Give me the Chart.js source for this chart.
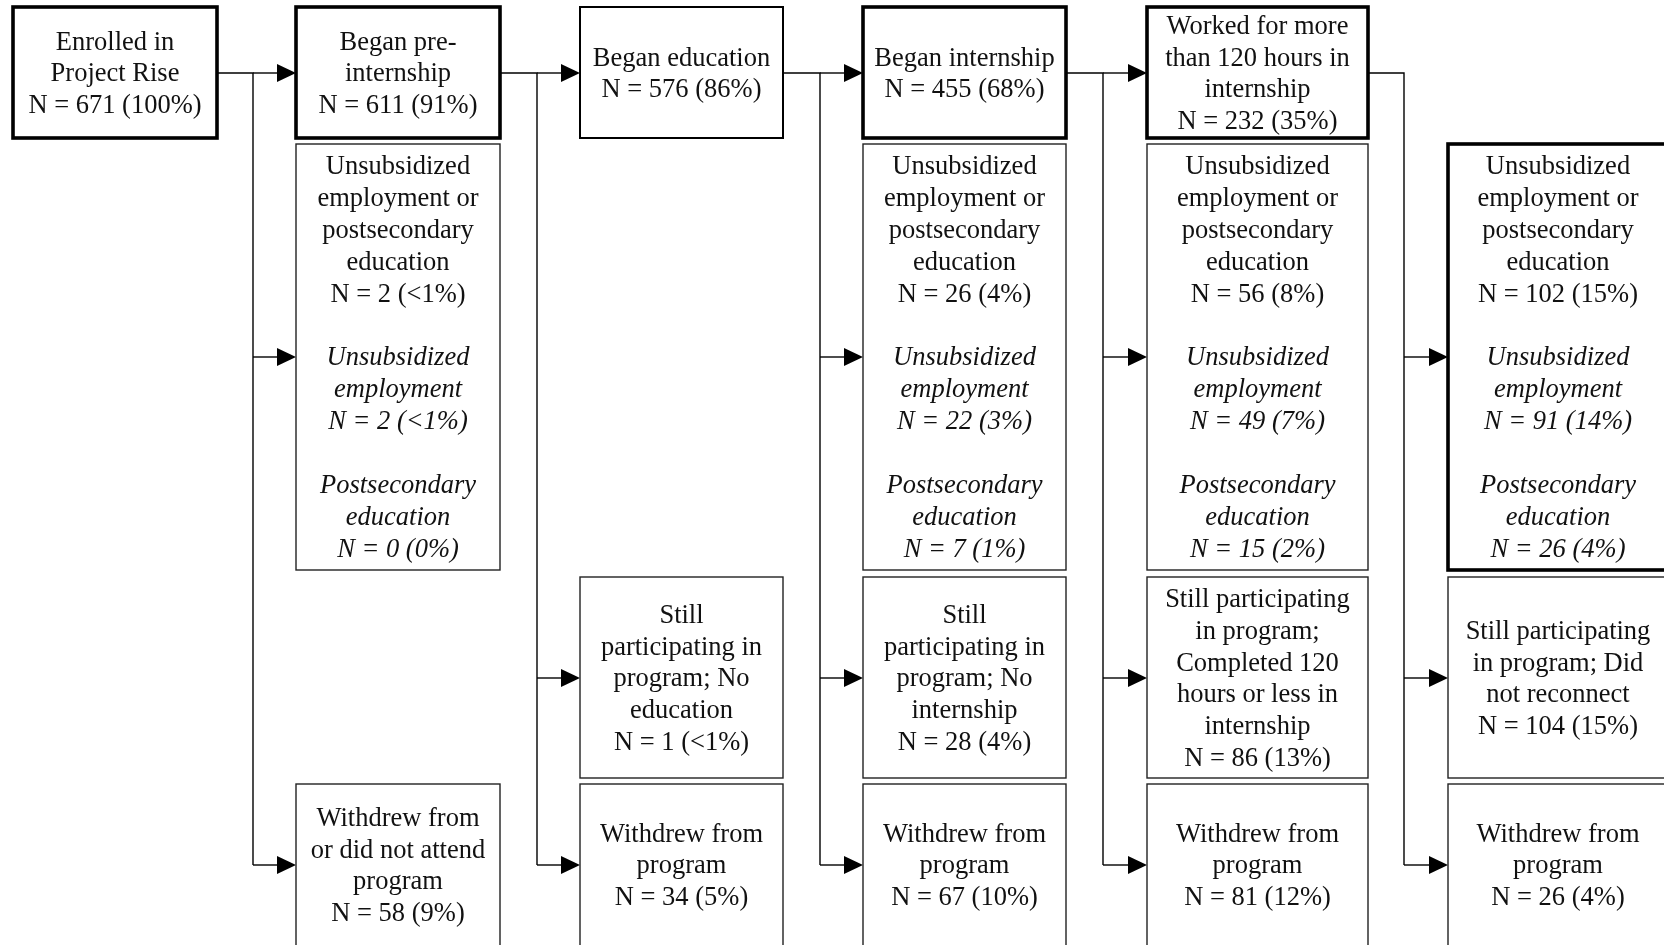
<!DOCTYPE html>
<html>
<head>
<meta charset="utf-8">
<script src="https://cdn.jsdelivr.net/npm/chart.js@4"></script>
<style>
  html, body { margin: 0; padding: 0; background: #fff; }
  #flow { display: block; }
</style>
</head>
<body>
<canvas id="flow" width="1664" height="945"></canvas>
<script>
// stages along the top row
const stageNames = ['Enrolled in\nProject Rise', 'Began pre-\ninternship', 'Began education', 'Began internship', 'Worked for more\nthan 120 hours in\ninternship'];
const stageN = [671, 611, 576, 455, 232];
const stagePct = ['100%', '91%', '86%', '68%', '35%'];

// reconnected: employment or postsecondary education (and its two parts)
const reconnectCols = [1, 3, 4, 5];
const reconnectN = [2, 26, 56, 102];
const reconnectPct = ['<1%', '4%', '8%', '15%'];
const employN = [2, 22, 49, 91];
const employPct = ['<1%', '3%', '7%', '14%'];
const eduN = [0, 7, 15, 26];
const eduPct = ['0%', '1%', '2%', '4%'];

// still participating
const stillCols = [2, 3, 4, 5];
const stillLabels = ['Still\nparticipating in\nprogram; No\neducation', 'Still\nparticipating in\nprogram; No\ninternship', 'Still participating\nin program;\nCompleted 120\nhours or less in\ninternship', 'Still participating\nin program; Did\nnot reconnect'];
const stillN = [1, 28, 86, 104];
const stillPct = ['<1%', '4%', '13%', '15%'];

// withdrew
const withdrewCols = [1, 2, 3, 4, 5];
const withdrewLabels = ['Withdrew from\nor did not attend\nprogram', 'Withdrew from\nprogram', 'Withdrew from\nprogram', 'Withdrew from\nprogram', 'Withdrew from\nprogram'];
const withdrewN = [58, 34, 67, 81, 26];
const withdrewPct = ['9%', '5%', '10%', '12%', '4%'];

// layout grid (in scale units)
const colLeft = [13, 296, 580, 863, 1147, 1448];
const colRight = [217, 500, 783, 1066, 1368, 1668];
const rowTop = [7, 144, 577, 784];
const rowBottom = [138, 570, 778, 960];
const rowMid = [73, 357, 678, 865];
const branchX = [253, 537, 820, 1103, 1404];

const FONT = '"Liberation Serif", "Times New Roman", serif';
const FONT_SIZE = 26.5;
const LINE_H = 31.9;
const TEXT_SHIFT = 1.5;

function nText(n, pct) {
    return 'N = ' + n + ' (' + pct + ')';
}

function plainLines(str) {
    return str.split('\n').map(function (t) { return {t: t, it: false}; });
}

function italicLines(str) {
    return str.split('\n').map(function (t) { return {t: t, it: true}; });
}

// build the boxes from the data
let boxes = [];
for (let i = 0; i < stageNames.length; i++) {
    boxes.push({
        col: i, row: 0,
        lines: plainLines(stageNames[i] + '\n' + nText(stageN[i], stagePct[i])),
        weight: i == 2 ? 2 : 3.6
    });
}
for (let i = 0; i < reconnectCols.length; i++) {
    let lines = plainLines('Unsubsidized\nemployment or\npostsecondary\neducation\n' + nText(reconnectN[i], reconnectPct[i]));
    lines.push({t: '', it: false});
    lines = lines.concat(italicLines('Unsubsidized\nemployment\n' + nText(employN[i], employPct[i])));
    lines.push({t: '', it: false});
    lines = lines.concat(italicLines('Postsecondary\neducation\n' + nText(eduN[i], eduPct[i])));
    boxes.push({col: reconnectCols[i], row: 1, lines: lines, weight: reconnectCols[i] == 5 ? 3.6 : 1.4});
}
for (let i = 0; i < stillCols.length; i++) {
    boxes.push({col: stillCols[i], row: 2, lines: plainLines(stillLabels[i] + '\n' + nText(stillN[i], stillPct[i])), weight: 1.4});
}
for (let i = 0; i < withdrewCols.length; i++) {
    boxes.push({col: withdrewCols[i], row: 3, lines: plainLines(withdrewLabels[i] + '\n' + nText(withdrewN[i], withdrewPct[i])), weight: 1.4});
}

function hasBox(col, row) {
    return boxes.some(function (b) { return b.col == col && b.row == row; });
}

const flowPlugin = {
    id: 'flow',
    afterDatasetsDraw(chart) {
        const ctx = chart.ctx;
        const xs = chart.scales.x;
        const ys = chart.scales.y;
        const px = function (v) { return xs.getPixelForValue(v); };
        const py = function (v) { return ys.getPixelForValue(v); };

        ctx.save();
        // connectors
        ctx.strokeStyle = '#000';
        ctx.fillStyle = '#000';
        ctx.lineWidth = 1.4;
        for (let g = 0; g < branchX.length; g++) {
            const bx = px(branchX[g]);
            let lastRow = 0;
            for (let r = 1; r < rowMid.length; r++) {
                if (hasBox(g + 1, r)) lastRow = r;
            }
            ctx.beginPath();
            ctx.moveTo(px(colRight[g]), py(rowMid[0]));
            ctx.lineTo(bx, py(rowMid[0]));
            ctx.lineTo(bx, py(rowMid[lastRow]));
            ctx.stroke();
            for (let r = 0; r < rowMid.length; r++) {
                if (!hasBox(g + 1, r)) continue;
                const tip = px(colLeft[g + 1]);
                const y = py(rowMid[r]);
                ctx.beginPath();
                ctx.moveTo(bx, y);
                ctx.lineTo(tip - 18, y);
                ctx.stroke();
                ctx.beginPath();
                ctx.moveTo(tip - 19, y - 9);
                ctx.lineTo(tip, y);
                ctx.lineTo(tip - 19, y + 9);
                ctx.closePath();
                ctx.fill();
            }
        }

        // boxes and text
        ctx.textAlign = 'center';
        ctx.textBaseline = 'middle';
        boxes.forEach(function (b) {
            const x0 = px(colLeft[b.col]), x1 = px(colRight[b.col]);
            const y0 = py(rowTop[b.row]), y1 = py(rowBottom[b.row]);
            ctx.fillStyle = '#fff';
            ctx.fillRect(x0, y0, x1 - x0, y1 - y0);
            ctx.strokeStyle = b.weight > 1.5 ? '#000' : '#222';
            ctx.lineWidth = b.weight;
            ctx.strokeRect(x0, y0, x1 - x0, y1 - y0);

            ctx.fillStyle = '#111';
            const cx = (x0 + x1) / 2;
            const cy = py(rowMid[b.row]) + TEXT_SHIFT;
            const start = cy - (b.lines.length - 1) * LINE_H / 2;
            b.lines.forEach(function (ln, k) {
                if (!ln.t) return;
                ctx.font = (ln.it ? 'italic ' : '') + FONT_SIZE + 'px ' + FONT;
                ctx.fillText(ln.t, cx, start + k * LINE_H);
            });
        });
        ctx.restore();
    }
};

let ctx = document.getElementById('flow').getContext('2d');
let flowChart = new Chart(ctx, {
    type: 'scatter',
    data: {
        datasets: [{
            label: 'boxes',
            data: boxes.map(function (b) {
                return {x: (colLeft[b.col] + colRight[b.col]) / 2, y: rowMid[b.row]};
            }),
            pointRadius: 0,
            pointHoverRadius: 0
        }]
    },
    options: {
        responsive: false,
        animation: false,
        layout: {padding: 0},
        plugins: {legend: {display: false}, tooltip: {enabled: false}},
        scales: {
            x: {type: 'linear', min: 0, max: 1664, display: false},
            y: {type: 'linear', min: 0, max: 945, reverse: true, display: false}
        }
    },
    plugins: [flowPlugin]
});
</script>
</body>
</html>
